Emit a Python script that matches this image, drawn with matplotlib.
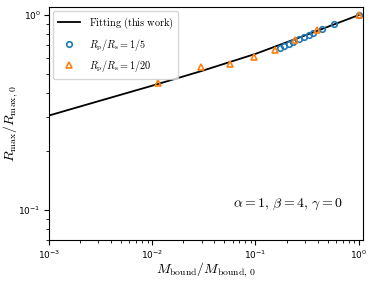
import matplotlib
matplotlib.use("Agg")
import matplotlib.pyplot as plt
import numpy as np

plt.rcParams['mathtext.fontset'] = 'cm'

# Fitting line
fit_x = [1e-3, 3e-3, 1e-2, 3e-2, 0.1, 0.3, 1.0]
fit_y = [0.305, 0.361, 0.434, 0.516, 0.632, 0.785, 1.0]

# Rp/Rs = 1/5
c_x = [0.172, 0.190, 0.209, 0.232, 0.263, 0.294, 0.327, 0.362, 0.440, 0.570, 1.0]
c_y = [0.681, 0.695, 0.714, 0.731, 0.752, 0.773, 0.788, 0.807, 0.845, 0.900, 1.0]

# Rp/Rs = 1/20
t_x = [0.0113, 0.0294, 0.0565, 0.0959, 0.154, 0.240, 0.395, 1.0]
t_y = [0.448, 0.543, 0.560, 0.606, 0.665, 0.743, 0.838, 0.995]

fig = plt.figure(figsize=(3.74, 2.81), dpi=100)
ax = fig.add_axes([49/374, 1-240/281, (363-49)/374, (240-7)/281])

ax.plot(fit_x, fit_y, color='black', lw=1.3, label=r'$\mathrm{Fitting\ (this\ work)}$')
ax.plot(c_x, c_y, 'o', mfc='none', mec='C0', mew=1.2, ms=4,
        label=r'$R_\mathrm{p}/R_\mathrm{s}=1/5$')
ax.plot(t_x, t_y, '^', mfc='none', mec='C1', mew=1.2, ms=4.5,
        label=r'$R_\mathrm{p}/R_\mathrm{s}=1/20$')

ax.set_xscale('log')
ax.set_yscale('log')
ax.set_xlim(1e-3, 1.1)
ax.set_ylim(0.07, 1.1)
ax.tick_params(labelsize=6.5, pad=2.5)
ax.set_xlabel(r'$M_\mathrm{bound}/M_\mathrm{bound,\,0}$', fontsize=10, labelpad=-0.5)
ax.set_ylabel(r'$R_\mathrm{max}/R_\mathrm{max,\,0}$', fontsize=10, labelpad=-1)
ax.text(0.935, 0.155, r'$\alpha=1,\,\beta=4,\,\gamma=0$', transform=ax.transAxes,
        ha='right', va='center', fontsize=10)
ax.legend(loc='upper left', fontsize=7.4, handlelength=2.2, borderpad=0.45,
          labelspacing=0.55, borderaxespad=0.4)

fig.savefig('out.png', dpi=100)
